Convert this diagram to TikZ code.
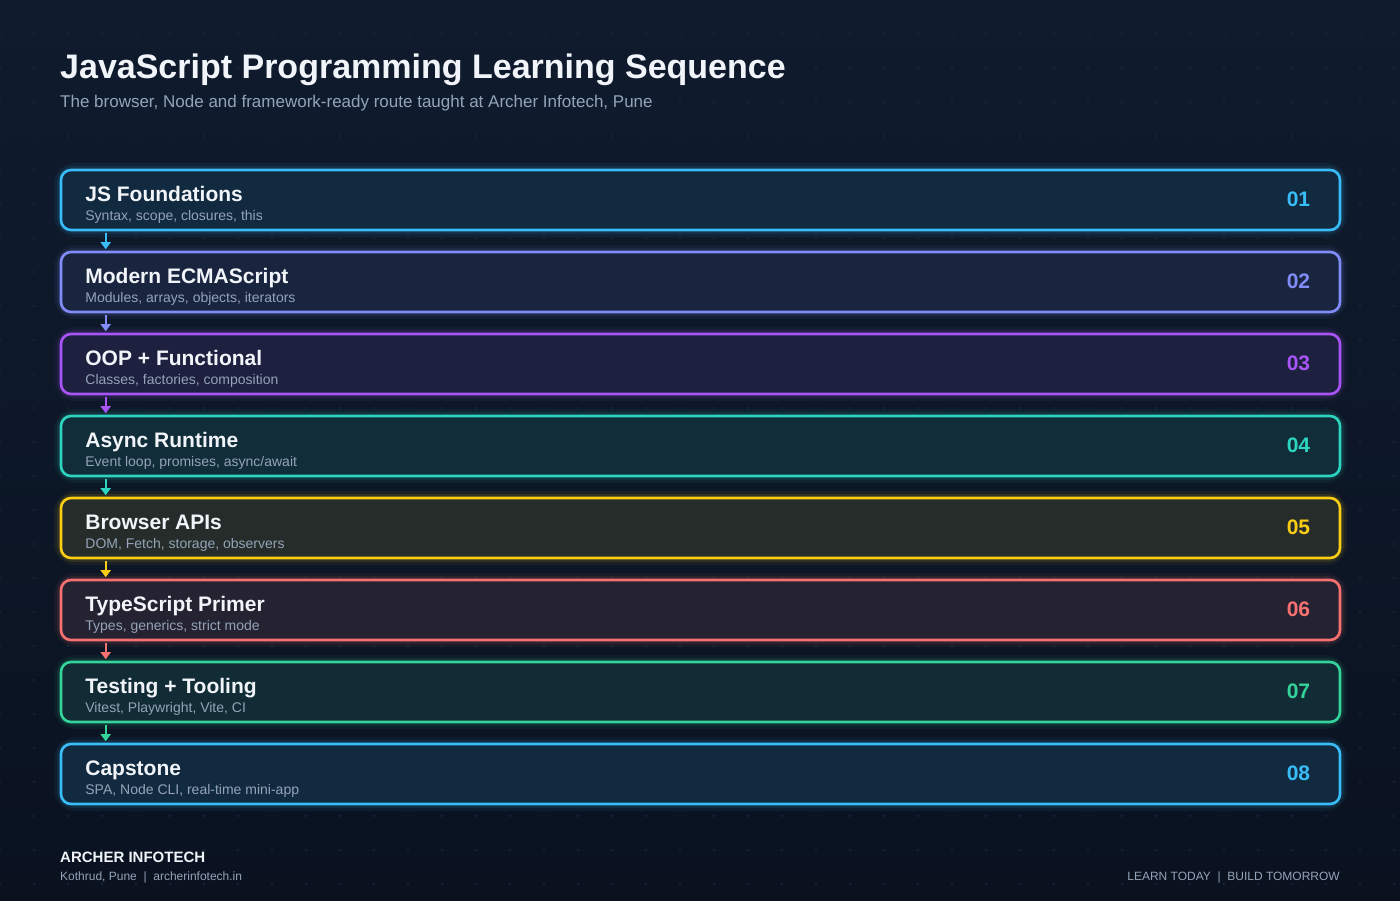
\documentclass[tikz,border=0pt]{standalone}
\usepackage{fontspec}
\setmainfont{Liberation Sans}
\usetikzlibrary{arrows.meta}

\definecolor{bgtop}{HTML}{0F1C2E}
\definecolor{bgbot}{HTML}{0A1220}
\definecolor{bg}{HTML}{0E1A2B}
\definecolor{dotc}{HTML}{22324A}
\definecolor{ink}{HTML}{F1F5F9}
\definecolor{muted}{HTML}{94A3B8}
\definecolor{csky}{HTML}{38BDF8}
\definecolor{cindigo}{HTML}{818CF8}
\definecolor{cpurple}{HTML}{A855F7}
\definecolor{cteal}{HTML}{2DD4BF}
\definecolor{cyellow}{HTML}{FACC15}
\definecolor{cred}{HTML}{F87171}
\definecolor{cgreen}{HTML}{34D399}

\tikzset{
  stagebox/.style={rectangle, rounded corners=10pt, line width=2.6pt,
    minimum width=1279pt, minimum height=60pt, inner sep=0pt},
  stagetitle/.style={anchor=base west, inner sep=0pt, text=ink,
    font=\fontsize{21}{24}\selectfont\bfseries},
  stagenote/.style={anchor=base west, inner sep=0pt, text=muted,
    font=\fontsize{14}{16}\selectfont},
  stagenum/.style={anchor=base east, inner sep=0pt,
    font=\fontsize{21}{24}\selectfont\bfseries},
  flow/.style={line width=2pt, -{Triangle[length=7pt,width=10pt]}},
}

\begin{document}
\begin{tikzpicture}[x=1pt,y=-1pt]
    \useasboundingbox (0,0) rectangle (1400,900);
    \shade[top color=bgtop, bottom color=bgbot] (0,0) rectangle (1400,900);

    % dotted backdrop
    \foreach \i in {0,...,41} \foreach \j in {0,...,26}
        \fill[dotc] (34*\i,34*\j) circle (0.9);

    \node[anchor=base west, inner sep=0pt, text=ink,
          font=\fontsize{34}{40}\selectfont\bfseries] (title) at (60,78)
          {JavaScript Programming Learning Sequence};
    \node[anchor=base west, inner sep=0pt, text=muted,
          font=\fontsize{17}{20}\selectfont] (subtitle) at (60,107)
          {The browser, Node and framework-ready route taught at Archer Infotech, Pune};

    \foreach \n/\t/\s/\c [count=\k] in {
        01/JS Foundations/{Syntax, scope, closures, this}/csky,
        02/Modern ECMAScript/{Modules, arrays, objects, iterators}/cindigo,
        03/OOP + Functional/{Classes, factories, composition}/cpurple,
        04/Async Runtime/{Event loop, promises, async/await}/cteal,
        05/Browser APIs/{DOM, Fetch, storage, observers}/cyellow,
        06/TypeScript Primer/{Types, generics, strict mode}/cred,
        07/Testing + Tooling/{Vitest, Playwright, Vite, CI}/cgreen,
        08/Capstone/{SPA, Node CLI, real-time mini-app}/csky}
    {
        \pgfmathsetmacro\y{170+82*(\k-1)}
        % glow
        \draw[\c, opacity=.06, line width=14pt, rounded corners=14pt] (61,\y) rectangle (1340,\y+60);
        \draw[\c, opacity=.10, line width=8pt, rounded corners=12pt] (61,\y) rectangle (1340,\y+60);
        \node[stagebox, draw=\c, fill=\c!10!bg] (s\k) at (700.5,\y+30) {};
        \node[stagetitle] (t\k) at ([xshift=25.5pt,yshift=-1pt]s\k.west) {\t};
        \node[stagenote] (d\k) at ([xshift=25.5pt,yshift=-20pt]s\k.west) {\s};
        \node[stagenum, text=\c] (n\k) at ([xshift=-31pt,yshift=-6pt]s\k.east) {\n};
    }

    \foreach \a/\b/\c in {1/2/csky, 2/3/cindigo, 3/4/cpurple, 4/5/cteal,
                          5/6/cyellow, 6/7/cred, 7/8/cgreen}
        \draw[flow, \c] ([xshift=46pt,yshift=-1.3pt]s\a.south west)
                     -- ([xshift=46pt,yshift=1.5pt]s\b.north west);

    \node[anchor=base west, inner sep=0pt, text=ink,
          font=\fontsize{15}{18}\selectfont\bfseries] (brand) at (60,862) {ARCHER INFOTECH};
    \node[anchor=base west, inner sep=0pt, text=muted,
          font=\fontsize{12}{14}\selectfont] (place) at (60,880)
          {Kothrud, Pune \ | \ archerinfotech.in};
    \node[anchor=base east, inner sep=0pt, text=muted,
          font=\fontsize{12}{14}\selectfont] (motto) at (1340,880)
          {LEARN TODAY \ | \ BUILD TOMORROW};
\end{tikzpicture}
\end{document}
